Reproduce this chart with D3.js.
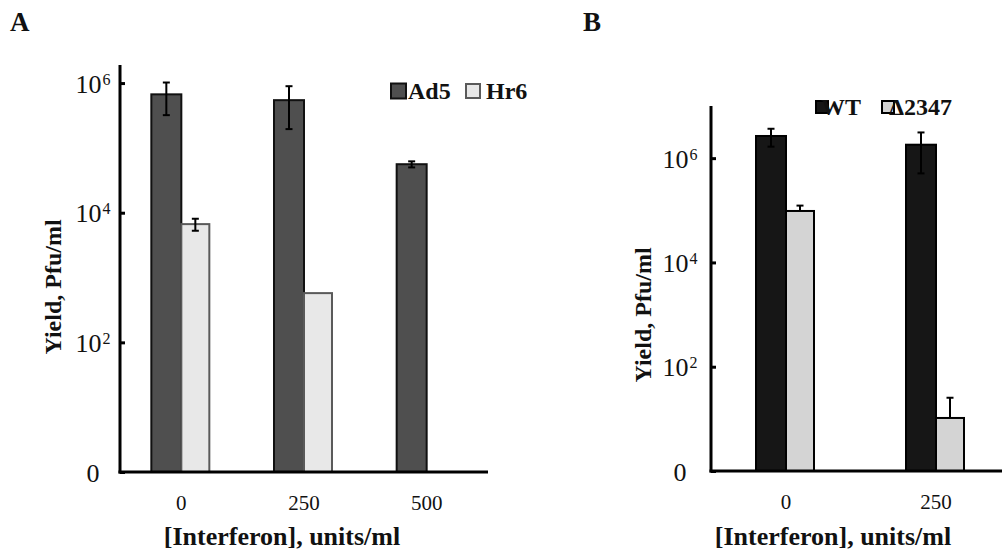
<!DOCTYPE html>
<html>
<head>
<meta charset="utf-8">
<script src="https://cdn.jsdelivr.net/npm/d3@7"></script>
<style>
  body { margin: 0; background: #fff; }
  svg text { font-family: "Liberation Serif", "Times New Roman", serif; fill: #111; }
</style>
</head>
<body>
<svg id="chart" width="1002" height="551"></svg>
<script>
// panel A data
const catsA = ["0", "250", "500"];
const seriesA = ["Ad5", "Hr6"];
const ad5 = [670000, 545000, 56000];
const ad5Err = [350000, 350000, 6000];
const hr6 = [6670, 575, null];
const hr6Err = [1400, 0, 0];

// panel B data
const catsB = ["0", "250"];
const seriesB = ["WT", "\u03942347"];
const wt = [2660000, 1810000];
const wtErr = [1000000, 1300000];
const d2347 = [97000, 10.4];
const d2347Err = [26000, 15]; // only plus direction shown

const yTicks = [1, 1e2, 1e4, 1e6];
const yTickLabels = ["0", "10|2", "10|4", "10|6"];

const svg = d3.select("#chart");

function panel(opt){
    const g = svg.append("g");

    const x0 = d3.scaleBand().domain(opt.cats).range([opt.left, opt.right]);
    const y = d3.scaleLog().domain([1, opt.ymax]).range([opt.bottom, opt.top]);

    // bars
    opt.series.forEach((s, si) => {
        s.values.forEach((v, i) => {
            if (v == null) return;
            const cx = x0(opt.cats[i]) + x0.bandwidth() / 2;
            const bx = si == 0 ? cx - 30 : cx;
            g.append("rect")
                .attr("x", bx)
                .attr("y", y(v))
                .attr("width", si == 0 ? 30 : 28)
                .attr("height", opt.bottom - y(v))
                .attr("fill", s.fill)
                .attr("stroke", s.stroke)
                .attr("stroke-width", 2);
        });
    });

    // error bars
    opt.series.forEach((s, si) => {
        s.values.forEach((v, i) => {
            const e = s.err[i];
            if (v == null || !e) return;
            const cx = x0(opt.cats[i]) + x0.bandwidth() / 2 + (si == 0 ? -15 : 14);
            const hi = y(v + e);
            const lo = s.plusOnly ? y(v) : y(Math.max(v - e, 1));
            g.append("line").attr("x1", cx).attr("x2", cx).attr("y1", hi).attr("y2", lo)
                .attr("stroke", "#000").attr("stroke-width", 2);
            g.append("line").attr("x1", cx - 3.5).attr("x2", cx + 3.5).attr("y1", hi).attr("y2", hi)
                .attr("stroke", "#000").attr("stroke-width", 2);
            if (!s.plusOnly)
                g.append("line").attr("x1", cx - 3.5).attr("x2", cx + 3.5).attr("y1", lo).attr("y2", lo)
                    .attr("stroke", "#000").attr("stroke-width", 2);
        });
    });

    // y axis
    const ya = g.append("g")
        .attr("transform", `translate(${opt.left},0)`)
        .call(d3.axisLeft(y).tickValues(yTicks).tickSizeInner(-5).tickSizeOuter(0).tickFormat(""));
    ya.select(".domain").remove();
    ya.selectAll(".tick line").attr("stroke", "#000").attr("stroke-width", 3);
    ya.selectAll(".tick").each(function(d, i){
        const parts = yTickLabels[i].split("|");
        const t = d3.select(this).append("text")
            .attr("x", opt.labelX - opt.left)
            .attr("dy", "0.35em")
            .attr("text-anchor", "middle")
            .attr("font-size", 26)
            .attr("fill", "#111");
        t.append("tspan").text(parts[0]);
        if (parts[1]) t.append("tspan").attr("dy", "-0.5em").attr("dx", 1).attr("font-size", 16).text(parts[1]);
    });
    g.append("line").attr("x1", opt.left).attr("x2", opt.left).attr("y1", opt.top).attr("y2", opt.bottom + 1.5)
        .attr("stroke", "#000").attr("stroke-width", 3);

    // x axis
    const xa = g.append("g")
        .attr("transform", `translate(0,${opt.bottom})`)
        .call(d3.axisBottom(x0).tickSize(0).tickPadding(23));
    xa.select(".domain").remove();
    xa.selectAll("text").attr("font-size", 21).attr("font-family", "Liberation Serif").attr("fill", "#111");
    g.append("line").attr("x1", opt.left - 1.5).attr("x2", opt.axisEnd).attr("y1", opt.bottom).attr("y2", opt.bottom)
        .attr("stroke", "#000").attr("stroke-width", 3);

    // titles
    g.append("text")
        .attr("transform", `translate(${opt.yTitleX},${opt.yTitleY}) rotate(-90)`)
        .attr("text-anchor", "middle")
        .attr("font-size", 24).attr("font-weight", "bold")
        .text("Yield, Pfu/ml");
    g.append("text")
        .attr("x", opt.xTitleX).attr("y", 545)
        .attr("text-anchor", "middle")
        .attr("font-size", 26).attr("font-weight", "bold")
        .text("[Interferon], units/ml");
    g.append("text")
        .attr("x", opt.letterX).attr("y", 31)
        .attr("font-size", 27).attr("font-weight", "bold")
        .text(opt.letter);

    // legend
    opt.legend.forEach((l, i) => {
        const s = opt.series[i];
        g.append("rect")
            .attr("x", l.x).attr("y", opt.legendY - l.size / 2)
            .attr("width", l.size).attr("height", l.size)
            .attr("fill", s.fill).attr("stroke", s.stroke).attr("stroke-width", 2);
        g.append("text")
            .attr("x", l.tx).attr("y", opt.legendY + 8)
            .attr("font-size", 24).attr("font-weight", "bold")
            .text(s.name);
    });
}

panel({
    letter: "A", letterX: 10,
    cats: catsA, left: 120, right: 488, axisEnd: 488, top: 65, bottom: 472, ymax: 1.9e6,
    labelX: 93, yTitleX: 61, yTitleY: 287, xTitleX: 282,
    legendY: 91,
    series: [
        {name: seriesA[0], values: ad5, err: ad5Err, fill: "#4f4f4f", stroke: "#111"},
        {name: seriesA[1], values: hr6, err: hr6Err, fill: "#e8e8e8", stroke: "#5a5a5a"}
    ],
    legend: [{x: 391, size: 15, tx: 408}, {x: 466, size: 14, tx: 486}]
});

panel({
    letter: "B", letterX: 583,
    cats: catsB, left: 711, right: 1011, axisEnd: 1002, top: 106, bottom: 471, ymax: 1e7,
    labelX: 680, yTitleX: 651, yTitleY: 315, xTitleX: 833,
    legendY: 107,
    series: [
        {name: seriesB[0], values: wt, err: wtErr, fill: "#161616", stroke: "#000"},
        {name: seriesB[1], values: d2347, err: d2347Err, fill: "#d4d4d4", stroke: "#000", plusOnly: true}
    ],
    legend: [{x: 816, size: 12, tx: 821}, {x: 882, size: 12, tx: 889}]
});
</script>
</body>
</html>
